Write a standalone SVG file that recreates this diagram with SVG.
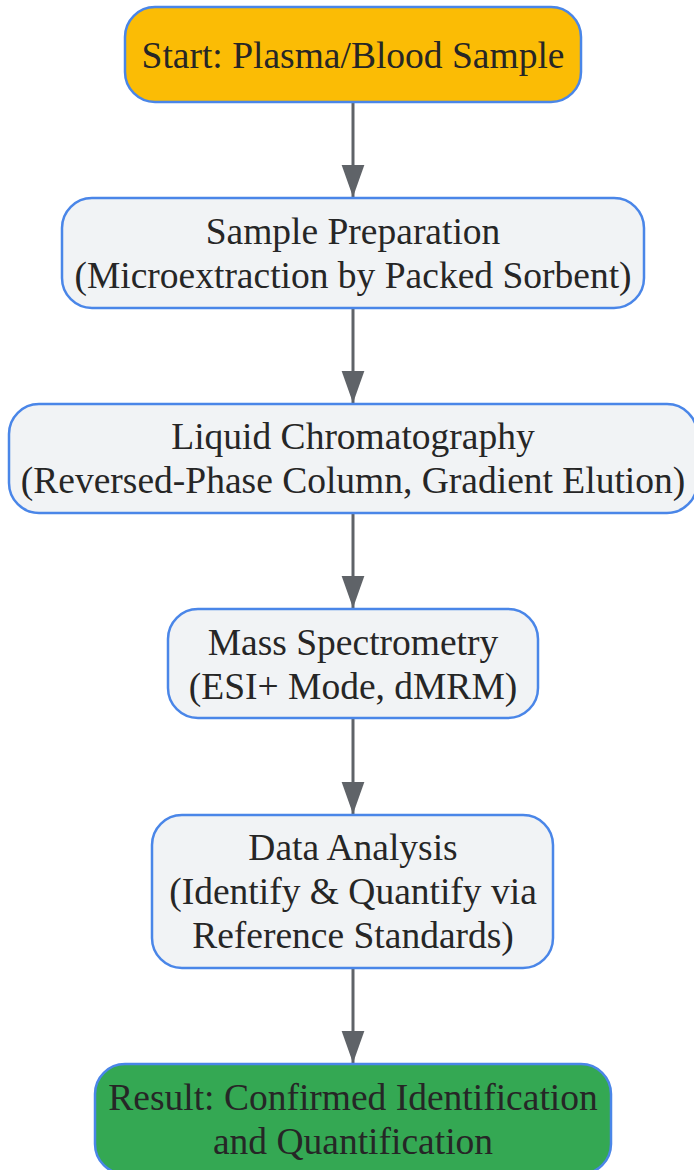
<svg xmlns="http://www.w3.org/2000/svg" width="694" height="1170" viewBox="0 0 694 1170">
<style>
.n{stroke:#4a86e8;stroke-width:2.5}
.p{fill:#f1f3f5}
.t{font-family:"Liberation Serif","Times New Roman",serif;font-size:37.5px;fill:#262626;text-anchor:middle}
.e{stroke:#5f6368;stroke-width:3;fill:none}
</style>
<defs>
<marker id="ah" markerUnits="userSpaceOnUse" markerWidth="32" markerHeight="24" refX="31" refY="11" orient="auto" viewBox="0 0 31 22">
<path d="M0,0 L31,11 L0,22 Z" fill="#5f6368"/>
</marker>
</defs>
<g id="edges">
<line class="e" x1="353" y1="102" x2="353" y2="197" marker-end="url(#ah)"/>
<line class="e" x1="353" y1="308" x2="353" y2="403" marker-end="url(#ah)"/>
<line class="e" x1="353" y1="513" x2="353" y2="608" marker-end="url(#ah)"/>
<line class="e" x1="353" y1="718" x2="353" y2="814" marker-end="url(#ah)"/>
<line class="e" x1="353" y1="968" x2="353" y2="1063" marker-end="url(#ah)"/>
</g>
<g id="start">
<rect class="n" x="125" y="7" width="456" height="95" rx="30" fill="#fbbc05"/>
<text class="t" x="353" y="68">Start: Plasma/Blood Sample</text>
</g>
<g id="prep">
<rect class="n p" x="62" y="198" width="582" height="110" rx="30"/>
<text class="t" x="353" y="244">Sample Preparation</text>
<text class="t" x="353" y="288">(Microextraction by Packed Sorbent)</text>
</g>
<g id="lc">
<rect class="n p" x="9" y="404" width="688" height="109" rx="30"/>
<text class="t" x="353" y="449">Liquid Chromatography</text>
<text class="t" x="353" y="493">(Reversed-Phase Column, Gradient Elution)</text>
</g>
<g id="ms">
<rect class="n p" x="168" y="609" width="370" height="109" rx="30"/>
<text class="t" x="353" y="655">Mass Spectrometry</text>
<text class="t" x="353" y="699">(ESI+ Mode, dMRM)</text>
</g>
<g id="data">
<rect class="n p" x="152" y="815" width="401" height="153" rx="30"/>
<text class="t" x="353" y="860">Data Analysis</text>
<text class="t" x="353" y="904">(Identify &amp; Quantify via</text>
<text class="t" x="353" y="948">Reference Standards)</text>
</g>
<g id="result">
<rect class="n" x="95" y="1064" width="516" height="110" rx="30" fill="#34a853"/>
<text class="t" x="353" y="1110">Result: Confirmed Identification</text>
<text class="t" x="353" y="1154">and Quantification</text>
</g>
</svg>
